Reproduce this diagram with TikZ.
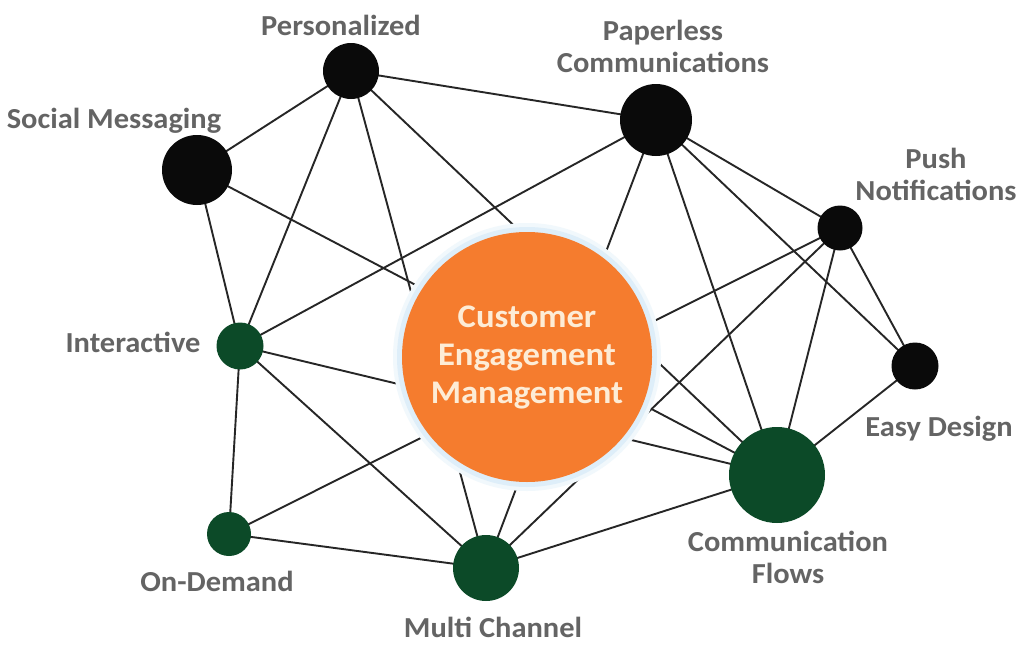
\documentclass[tikz,border=0pt]{standalone}
\usepackage{fontspec}
\setmainfont{Carlito}[FakeStretch=1.05]
\pgfdeclarelayer{canvas}
\pgfdeclarelayer{back}
\pgfsetlayers{canvas,back,main}
\definecolor{hub}{RGB}{245,124,46}
\definecolor{leaf}{RGB}{12,74,40}
\definecolor{ink}{RGB}{10,10,10}
\definecolor{edgecol}{RGB}{38,38,38}
\definecolor{caption}{RGB}{100,100,100}
\definecolor{halo}{RGB}{214,234,247}
\definecolor{hubtext}{RGB}{253,236,214}

\begin{document}
\begin{tikzpicture}[x=1pt,y=-1pt,
  dot/.style={circle,inner sep=0pt,minimum size=#1},
  blackdot/.style={dot=#1,fill=ink},
  greendot/.style={dot=#1,fill=leaf},
  link/.style={draw=edgecol,line width=1.9pt},
  tag/.style={text=caption,font=\bfseries\fontsize{29}{32}\selectfont,align=center,inner sep=0pt},
]
\begin{pgfonlayer}{canvas}
\fill[white] (0,0) rectangle (1020,645);
\end{pgfonlayer}
\useasboundingbox (0,0) rectangle (1020,645);

% outer nodes
\node[blackdot=56pt] (pers) at (351,71) {};
\node[blackdot=72pt] (pap)  at (656,120) {};
\node[blackdot=70pt] (soc)  at (197,170) {};
\node[blackdot=45pt] (push) at (840,228) {};
\node[blackdot=47pt] (easy) at (915,366) {};
\node[greendot=47pt] (inter) at (240,346) {};
\node[greendot=44pt] (ondem) at (229,534) {};
\node[greendot=66pt] (multi) at (486,568) {};
\node[greendot=96pt] (flows) at (777,475) {};

% connectors, run between node centres behind the nodes
\begin{pgfonlayer}{back}
\draw[link] (pers.center) -- (pap.center);
\draw[link] (pers.center) -- (soc.center);
\draw[link] (pers.center) -- (inter.center);
\draw[link] (pers.center) -- (multi.center);
\draw[link] (pers.center) -- (flows.center);
\draw[link] (soc.center) -- (inter.center);
\draw[link] (soc.center) -- (flows.center);
\draw[link] (pap.center) -- (inter.center);
\draw[link] (pap.center) -- (multi.center);
\draw[link] (pap.center) -- (flows.center);
\draw[link] (pap.center) -- (easy.center);
\draw[link] (pap.center) -- (push.center);
\draw[link] (push.center) -- (easy.center);
\draw[link] (push.center) -- (flows.center);
\draw[link] (push.center) -- (multi.center);
\draw[link] (push.center) -- (ondem.center);
\draw[link] (easy.center) -- (flows.center);
\draw[link] (inter.center) -- (flows.center);
\draw[link] (inter.center) -- (multi.center);
\draw[link] (inter.center) -- (ondem.center);
\draw[link] (ondem.center) -- (multi.center);
\draw[link] (multi.center) -- (flows.center);
\end{pgfonlayer}

% central hub with its soft halo
\node[dot=268pt,fill=halo!35] (halo2) at (527,357) {};
\node[dot=260pt,fill=halo!80] (halo1) at (527,357) {};
\node[dot=250pt,fill=hub,text=hubtext,align=center,
  font=\bfseries\fontsize{33}{38}\selectfont] (cem) at (527,357)
  {Customer\\Engagement\\Management};

% captions
\node[tag] (t-pers)  at (341,25)  {Personalized};
\node[tag] (t-pap)   at (663,46)  {Paperless\\Communications};
\node[tag] (t-soc)   at (114,121) {Social Messaging};
\node[tag] (t-push)  at (936,174) {Push\\Notifications};
\node[tag] (t-inter) at (133,342) {Interactive};
\node[tag] (t-easy)  at (939,429) {Easy Design};
\node[tag] (t-flows) at (788,557) {Communication\\Flows};
\node[tag] (t-ondem) at (217,581) {On-Demand};
\node[tag] (t-multi) at (493,627) {Multi Channel};
\end{tikzpicture}
\end{document}
